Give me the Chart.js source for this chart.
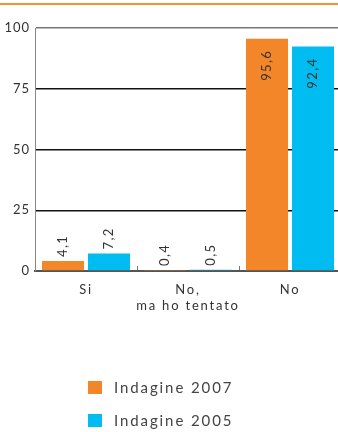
<!DOCTYPE html>
<html>
<head>
<meta charset="utf-8">
<script src="https://cdn.jsdelivr.net/npm/chart.js@4"></script>
<style>
  html, body { margin: 0; padding: 0; background: #fff; overflow: hidden; }
  #wrap { width: 341px; height: 432px; position: relative; }
</style>
</head>
<body>
<div id="wrap"><canvas id="chart"></canvas></div>
<script>
// Risposte per categoria, due indagini a confronto
const categories = ['Si', ['No,', 'ma ho tentato'], 'No'];
const series2007 = [4.1, 0.4, 95.6];
const series2005 = [7.2, 0.5, 92.4];
const seriesLabels = ['Indagine 2007', 'Indagine 2005'];
const yTicks = [0, 25, 50, 75, 100];

const ORANGE = '#f4862a';
const BLUE = '#00bcf0';
const FONT = 'Lato, "Open Sans", sans-serif';

// Spaziatura tra le lettere per i testi del canvas
const spacingPlugin = {
  id: 'spacing',
  beforeLayout(chart) { chart.ctx.letterSpacing = '1px'; },
  beforeDraw(chart) { chart.ctx.letterSpacing = '1px'; }
};

// Linea arancione in testa alla pagina
const topRule = {
  id: 'topRule',
  beforeDraw(chart) {
    const ctx = chart.ctx;
    ctx.save();
    ctx.fillStyle = '#f39237';
    ctx.fillRect(0, 3, chart.width, 2);
    ctx.restore();
  }
};

// Etichette dei valori, ruotate in verticale
const valueLabels = {
  id: 'valueLabels',
  afterDatasetsDraw(chart) {
    const ctx = chart.ctx;
    ctx.save();
    ctx.font = '13px ' + FONT;
    ctx.letterSpacing = '1.4px';
    ctx.fillStyle = '#333';
    ctx.textBaseline = 'middle';
    chart.data.datasets.forEach((ds, di) => {
      const meta = chart.getDatasetMeta(di);
      meta.data.forEach((bar, i) => {
        const v = ds.data[i];
        const text = v.toLocaleString('it-IT', { minimumFractionDigits: 1 });
        ctx.save();
        if (v > 50) {
          ctx.translate(bar.x, bar.y + 11);
          ctx.rotate(-Math.PI / 2);
          ctx.textAlign = 'right';
        } else {
          ctx.translate(bar.x, bar.y - 4);
          ctx.rotate(-Math.PI / 2);
          ctx.textAlign = 'left';
        }
        ctx.fillText(text, 0, 0);
        ctx.restore();
      });
    });
    ctx.restore();
  }
};

// Legenda verticale sotto il grafico
const stackedLegend = {
  id: 'stackedLegend',
  afterDraw(chart) {
    const ctx = chart.ctx;
    ctx.save();
    ctx.font = '15px ' + FONT;
    ctx.letterSpacing = '1.9px';
    ctx.textBaseline = 'middle';
    ctx.textAlign = 'left';
    chart.data.datasets.forEach((ds, i) => {
      const y = 381 + i * 33;
      ctx.fillStyle = ds.backgroundColor;
      ctx.fillRect(88, y, 14, 13);
      ctx.fillStyle = '#444';
      ctx.fillText(ds.label, 114, y + 7);
    });
    ctx.restore();
  }
};

new Chart(document.getElementById('chart'), {
  type: 'bar',
  data: {
    labels: categories,
    datasets: [
      { label: seriesLabels[0], data: series2007, backgroundColor: ORANGE },
      { label: seriesLabels[1], data: series2005, backgroundColor: BLUE }
    ]
  },
  options: {
    responsive: true,
    maintainAspectRatio: false,
    animation: false,
    layout: { padding: { top: 28, left: 0, right: 0, bottom: 101 } },
    datasets: { bar: { categoryPercentage: 0.902, barPercentage: 0.913 } },
    plugins: {
      legend: { display: false },
      tooltip: { enabled: false }
    },
    scales: {
      x: {
        offset: true,
        grid: {
          display: true,
          offset: true,
          drawOnChartArea: false,
          drawTicks: true,
          tickLength: -5,
          color: '#777',
          lineWidth: 1
        },
        border: { display: true, color: '#555', width: 2 },
        ticks: {
          color: '#333',
          font: { family: FONT, size: 13 },
          padding: 16,
          maxRotation: 0,
          autoSkip: false
        },
        afterFit(scale) {
          scale.height = 60;
          // etichette delle categorie più spaziate
          if (!scale._spaced) {
            const draw = scale.drawLabels;
            scale.drawLabels = function (area) {
              const prev = this.ctx.letterSpacing;
              this.ctx.letterSpacing = '1.8px';
              draw.call(this, area);
              this.ctx.letterSpacing = prev;
            };
            scale._spaced = true;
          }
        }
      },
      y: {
        min: 0,
        max: 100,
        afterBuildTicks(scale) { scale.ticks = yTicks.map(v => ({ value: v })); },
        grid: {
          drawTicks: false,
          color: ctx => {
            const v = ctx.tick ? ctx.tick.value : 0;
            if (v === 100) return '#777';
            if (v === 0) return '#555';
            return '#111';
          },
          lineWidth: 1.5
        },
        border: { display: true, color: '#888', width: 1 },
        ticks: {
          color: '#333',
          font: { family: FONT, size: 13 },
          padding: 5
        },
        afterFit(scale) { scale.width = 35; }
      }
    }
  },
  plugins: [spacingPlugin, topRule, valueLabels, stackedLegend]
});
</script>
</body>
</html>
